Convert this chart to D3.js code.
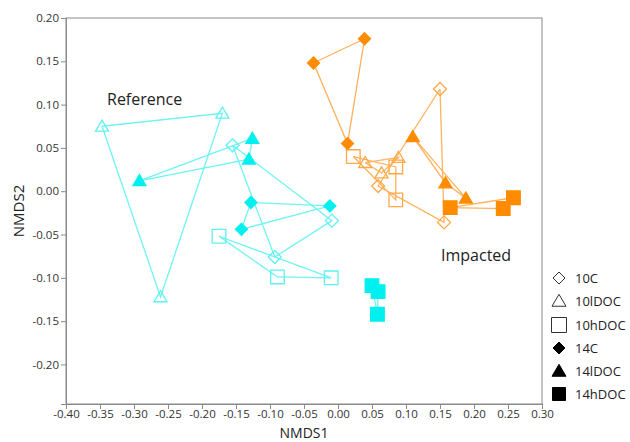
<!DOCTYPE html>
<html><head><meta charset="utf-8">
<script src="https://cdn.jsdelivr.net/npm/d3@7"></script>
<style>body{margin:0;background:#fff}svg{display:block}</style>
</head><body>
<script>
// ---- data (NMDS1, NMDS2) ----
const groups = ["10C","10lDOC","10hDOC","14C","14lDOC","14hDOC"];
const ref_10C    = [[-0.155,0.053],[-0.093,-0.076],[-0.009,-0.034]];
const ref_10lDOC = [[-0.347,0.075],[-0.170,0.090],[-0.261,-0.122]];
const ref_10hDOC = [[-0.175,-0.052],[-0.089,-0.099],[-0.010,-0.100]];
const ref_14C    = [[-0.128,-0.013],[-0.142,-0.044],[-0.012,-0.017]];
const ref_14lDOC = [[-0.126,0.061],[-0.131,0.037],[-0.292,0.012]];
const ref_14hDOC = [[0.050,-0.109],[0.059,-0.116],[0.058,-0.142]];
const imp_10C    = [[0.150,0.118],[0.059,0.006],[0.156,-0.036]];
const imp_10lDOC = [[0.040,0.033],[0.064,0.021],[0.089,0.039]];
const imp_10hDOC = [[0.0225,0.040],[0.085,0.028],[0.085,-0.010]];
const imp_14C    = [[0.039,0.176],[-0.036,0.148],[0.014,0.055]];
const imp_14lDOC = [[0.110,0.063],[0.158,0.0095],[0.188,-0.008]];
const imp_14hDOC = [[0.165,-0.019],[0.243,-0.020],[0.258,-0.0075]];
const xTicks = [-0.40,-0.35,-0.30,-0.25,-0.20,-0.15,-0.10,-0.05,0.00,0.05,0.10,0.15,0.20,0.25,0.30];
const yTicks = [0.20,0.15,0.10,0.05,0.00,-0.05,-0.10,-0.15,-0.20];

const refSets = [ref_10C,ref_10lDOC,ref_10hDOC,ref_14C,ref_14lDOC,ref_14hDOC];
const impSets = [imp_10C,imp_10lDOC,imp_10hDOC,imp_14C,imp_14lDOC,imp_14hDOC];

const W=630,H=442;
const svg=d3.select("body").append("svg").attr("width",W).attr("height",H);
const x=d3.scaleLinear().domain([-0.40,0.30]).range([66,542]);
const y=d3.scaleLinear().domain([-0.2457,0.20]).range([404,18]);

const axisCol="#8a8a8a", font="'Open Sans', 'Liberation Sans', sans-serif";

// frame
svg.append("rect").attr("x",66).attr("y",18).attr("width",476).attr("height",386)
  .attr("fill","none").attr("stroke",axisCol).attr("stroke-width",1);

const fmt=d=>d3.format(".2f")(d).replace("−","-");
const gx=svg.append("g").attr("transform","translate(0,404)")
  .call(d3.axisBottom(x).tickValues(xTicks).tickFormat(fmt).tickSizeOuter(0).tickSize(5).tickPadding(1));
const gy=svg.append("g").attr("transform","translate(66,0)")
  .call(d3.axisLeft(y).tickValues(yTicks).tickFormat(fmt).tickSizeOuter(0).tickSize(5).tickPadding(2));
[gx,gy].forEach(g=>{
  g.select(".domain").attr("stroke",axisCol);
  g.selectAll(".tick line").attr("stroke",axisCol);
  g.selectAll(".tick text").attr("fill","#333").style("font-family",font).style("font-size","11.5px");
});

svg.append("text").attr("x",304).attr("y",438).attr("text-anchor","middle")
  .style("font-family",font).style("font-size","14px").attr("fill","#222").text("NMDS1");
svg.append("text").attr("transform","translate(24,211) rotate(-90)").attr("text-anchor","middle")
  .style("font-family",font).style("font-size","15px").attr("fill","#222").text("NMDS2");

// marker shapes
function kindOf(g){ return g.endsWith("lDOC")?"tri":(g.endsWith("hDOC")?"sq":"dia"); }
function shape(g,r){
  const k=kindOf(g);
  if(k==="dia") return `M0,${-r}L${r},0L0,${r}L${-r},0Z`;
  if(k==="tri") return `M0,${-r*0.95}L${r},${r*0.75}L${-r},${r*0.75}Z`;
  return `M${-r},${-r}H${r}V${r}H${-r}Z`;
}
function markerR(g){
  const k=kindOf(g), filled=g.startsWith("14");
  if(k==="dia") return filled?6:6.5;
  if(k==="tri") return 6.5;
  return 6.8;
}
function drawSite(sets,lineCol,fillCol,openCol){
  sets.forEach((pts,i)=>{
    const ring=pts.concat([pts[0]]);
    svg.append("path").attr("d",d3.line().x(d=>x(d[0])).y(d=>y(d[1]))(ring))
      .attr("fill","none").attr("stroke",lineCol).attr("stroke-width",1.3);
  });
  sets.forEach((pts,i)=>{
    const g=groups[i], filled=g.startsWith("14");
    svg.selectAll(null).data(pts).enter().append("path")
      .attr("transform",d=>`translate(${x(d[0])},${y(d[1])})`)
      .attr("d",shape(g,markerR(g)))
      .attr("fill",filled?fillCol:"none")
      .attr("stroke",filled?fillCol:openCol).attr("stroke-width",1.3);
  });
}
drawSite(refSets,"#6ff3f3","#00f0f0","#5cf2f2");
drawSite(impSets,"#ffb25e","#ff8c00","#ffa847");

svg.append("text").attr("x",107).attr("y",105).style("font-family",font).style("font-size","16px")
  .attr("fill","#222").text("Reference");
svg.append("text").attr("x",441).attr("y",261).style("font-family",font).style("font-size","16px")
  .attr("fill","#222").text("Impacted");

// legend
const legY=[278,301,325,348,371,394];
groups.forEach((g,i)=>{
  const filled=g.startsWith("14"), k=kindOf(g);
  const r = k==="dia" ? 6 : (k==="tri"?7:(filled?6.5:7.5));
  svg.append("path").attr("transform",`translate(559,${legY[i]})`).attr("d",shape(g,r))
    .attr("fill",filled?"#000":"none").attr("stroke",filled?"#000":"#333").attr("stroke-width",1);
  svg.append("text").attr("x",575).attr("y",legY[i]).attr("dy","0.35em")
    .style("font-family",font).style("font-size","13px").attr("fill","#222").text(g);
});
</script>
</body></html>
